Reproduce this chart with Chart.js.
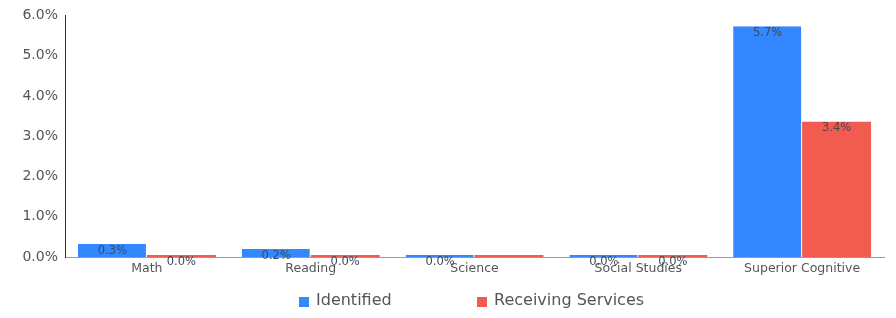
<!DOCTYPE html>
<html>
<head>
<meta charset="utf-8">
<script src="https://cdn.jsdelivr.net/npm/chart.js@4/dist/chart.umd.min.js"></script>
<style>
  html, body { margin: 0; padding: 0; background: #fff; }
  #wrap { width: 896px; height: 318px; }
</style>
</head>
<body>
<div id="wrap"><canvas id="chartId" width="896" height="318"></canvas></div>
<script>
const categories = ['Math', 'Reading', 'Science', 'Social Studies', 'Superior Cognitive'];
const identified = [0.32, 0.2, 0.0, 0.0, 5.73];
const receiving = [0.0, 0.0, 0.0, 0.0, 3.36];
// the reference leaves the label off the Science "Receiving" bar
const identifiedLabels = ['0.3%', '0.2%', '0.0%', '0.0%', '5.7%'];
const receivingLabels = ['0.0%', '0.0%', '', '0.0%', '3.4%'];
const yTicks = [0, 1, 2, 3, 4, 5, 6];

const blue = '#3388ff';
const red = '#f25b50';
const fontFamily = '"DejaVu Sans", Verdana, sans-serif';

// value labels drawn at the top of each bar
const barLabels = {
    id: 'barLabels',
    afterDatasetsDraw(chart) {
        const ctx = chart.ctx;
        const texts = [identifiedLabels, receivingLabels];
        ctx.save();
        ctx.font = '11.5px ' + fontFamily;
        ctx.fillStyle = '#3e4a5a';
        ctx.textAlign = 'center';
        ctx.textBaseline = 'top';
        chart.data.datasets.forEach((ds, i) => {
            chart.getDatasetMeta(i).data.forEach((bar, j) => {
                const t = texts[i][j];
                if (!t) return;
                ctx.fillText(t, bar.x, bar.y + 1);
            });
        });
        ctx.restore();
    }
};

// legend spaced like the reference
const wideLegend = {
    id: 'wideLegend',
    afterDraw(chart) {
        const ctx = chart.ctx;
        const items = [
            { x: 299, text: 'Identified', color: blue },
            { x: 477, text: 'Receiving Services', color: red }
        ];
        ctx.save();
        ctx.font = '16px ' + fontFamily;
        ctx.textBaseline = 'middle';
        items.forEach(it => {
            ctx.fillStyle = it.color;
            ctx.fillRect(it.x, 297, 10, 10);
            ctx.fillStyle = '#555';
            ctx.fillText(it.text, it.x + 17, 301);
        });
        ctx.restore();
    }
};

var chrt = document.getElementById('chartId').getContext('2d');
var chartId = new Chart(chrt, {
    type: 'bar',
    data: {
        labels: categories,
        datasets: [{
            label: 'Identified',
            data: identified,
            backgroundColor: blue,
            borderColor: '#fff',
            borderWidth: { left: 0, right: 1, top: 0, bottom: 0 },
            borderSkipped: false,
            minBarLength: 2,
            barPercentage: 1,
            categoryPercentage: 0.842
        }, {
            label: 'Receiving Services',
            data: receiving,
            backgroundColor: red,
            minBarLength: 2,
            barPercentage: 1,
            categoryPercentage: 0.842
        }]
    },
    options: {
        responsive: false,
        animation: false,
        layout: { padding: { top: 14, right: 12, left: 0, bottom: 0 } },
        plugins: {
            legend: { display: false },
            tooltip: { enabled: false }
        },
        scales: {
            x: {
                grid: { display: false, drawTicks: false },
                border: { display: true, color: '#9a9a9a', width: 1 },
                ticks: {
                    color: '#555',
                    font: { family: fontFamily, size: 12.5 },
                    padding: 4,
                    maxRotation: 0,
                    autoSkip: false
                },
                afterFit(scale) { scale.height = 61; }
            },
            y: {
                min: 0,
                max: 6,
                afterBuildTicks(scale) { scale.ticks = yTicks.map(v => ({ value: v })); },
                grid: { display: false, drawTicks: false },
                border: { display: true, color: '#333', width: 1 },
                ticks: {
                    color: '#555',
                    font: { family: fontFamily, size: 14 },
                    padding: 7,
                    callback: v => v.toFixed(1) + '%'
                },
                afterFit(scale) { scale.width = 65; }
            }
        }
    },
    plugins: [barLabels, wideLegend]
});
</script>
</body>
</html>
